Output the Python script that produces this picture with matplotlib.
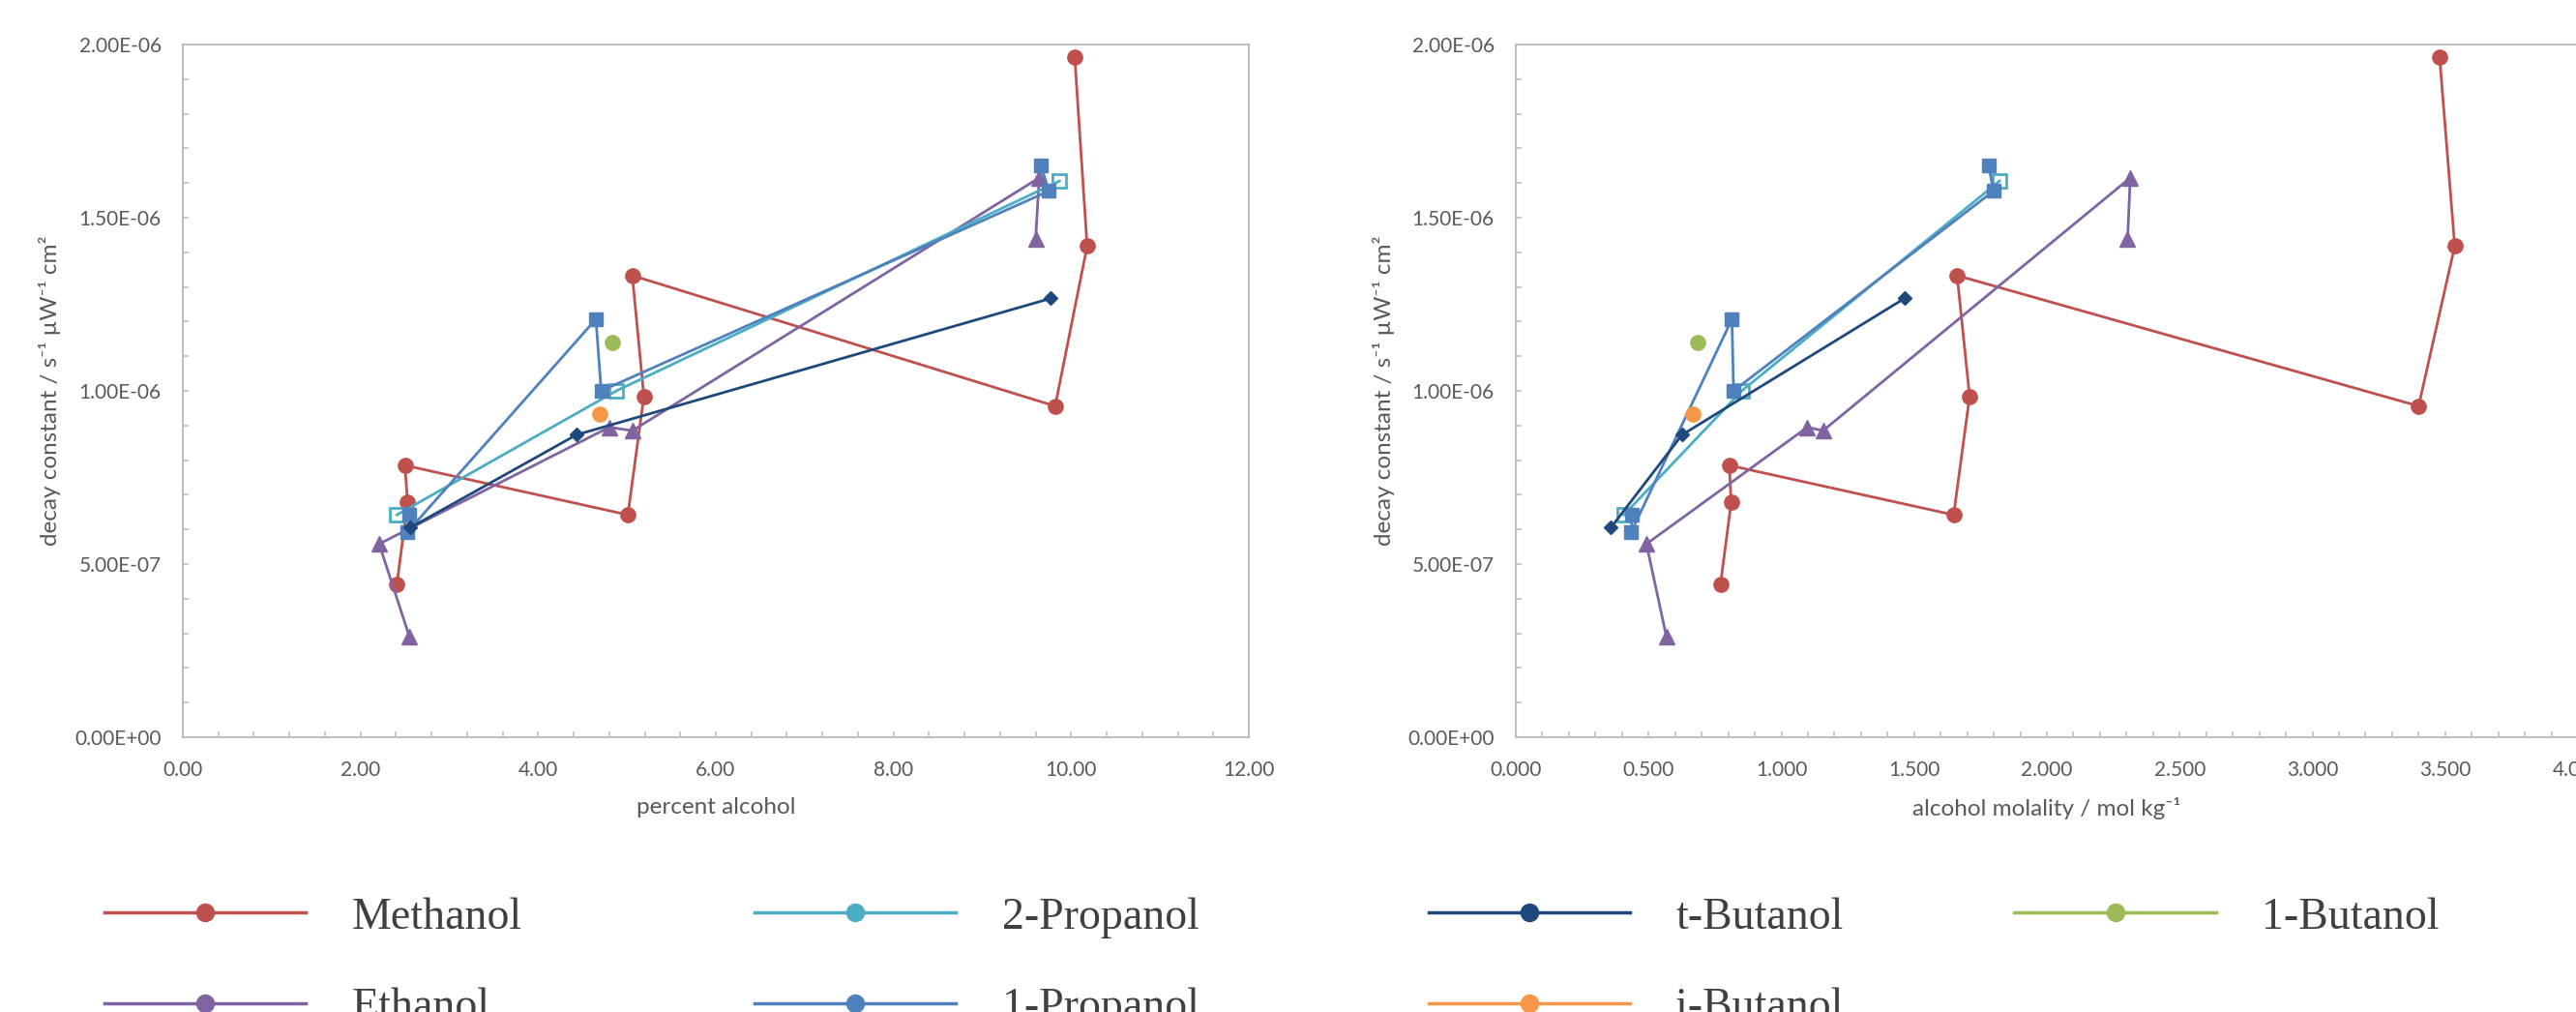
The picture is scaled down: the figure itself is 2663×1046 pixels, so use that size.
import matplotlib
matplotlib.use('Agg')
import matplotlib.pyplot as plt
from matplotlib.lines import Line2D
from matplotlib.ticker import MultipleLocator, FuncFormatter

plt.rcParams['font.family'] = ['Lato', 'DejaVu Sans']

# decay constants (s-1 uW-1 cm2), one list per alcohol, in the order they were joined
methanol_pct = [10.04, 10.18, 9.82, 5.06, 5.19, 5.01, 2.50, 2.53, 2.41]
methanol_mol = [3.479, 3.536, 3.400, 1.662, 1.709, 1.649, 0.804, 0.811, 0.771]
methanol_k = [1.964e-6, 1.418e-6, 0.956e-6, 1.333e-6, 0.984e-6, 0.642e-6, 0.785e-6, 0.678e-6, 0.442e-6]

ethanol_pct = [9.60, 9.64, 5.06, 4.80, 2.21, 2.55]
ethanol_mol = [2.304, 2.314, 1.157, 1.098, 0.492, 0.567]
ethanol_k = [1.438e-6, 1.615e-6, 0.885e-6, 0.895e-6, 0.558e-6, 0.291e-6]

propanol2_pct = [9.87, 4.88, 2.41]
propanol2_mol = [1.822, 0.851, 0.407]
propanol2_k = [1.606e-6, 1.000e-6, 0.642e-6]

propanol1_pct = [9.66, 9.75, 4.71, 4.65, 2.53, 2.55]
propanol1_mol = [1.781, 1.799, 0.820, 0.814, 0.435, 0.438]
propanol1_k = [1.650e-6, 1.577e-6, 1.000e-6, 1.207e-6, 0.593e-6, 0.642e-6]

tbutanol_pct = [9.77, 4.43, 2.56]
tbutanol_mol = [1.464, 0.626, 0.358]
tbutanol_k = [1.267e-6, 0.873e-6, 0.605e-6]

ibutanol_pct = [4.69]
ibutanol_mol = [0.665]
ibutanol_k = [0.932e-6]

butanol1_pct = [4.83]
butanol1_mol = [0.686]
butanol1_k = [1.139e-6]

colors = {
    'Methanol': '#C0504D', 'Ethanol': '#8064A2', '2-Propanol': '#4BACC6',
    '1-Propanol': '#4F81BD', 't-Butanol': '#1F497D', 'i-Butanol': '#F79646',
    '1-Butanol': '#9BBB59',
}

series = [
    ('Methanol', methanol_pct, methanol_mol, methanol_k, 'o', 11),
    ('Ethanol', ethanol_pct, ethanol_mol, ethanol_k, '^', 11),
    ('2-Propanol', propanol2_pct, propanol2_mol, propanol2_k, 's', 10),
    ('1-Propanol', propanol1_pct, propanol1_mol, propanol1_k, 's', 10.5),
    ('t-Butanol', tbutanol_pct, tbutanol_mol, tbutanol_k, 'D', 7),
    ('i-Butanol', ibutanol_pct, ibutanol_mol, ibutanol_k, 'o', 11),
    ('1-Butanol', butanol1_pct, butanol1_mol, butanol1_k, 'o', 11),
]

W, H = 2663, 1046
fig = plt.figure(figsize=(W / 100, H / 100), dpi=100)
ax1 = fig.add_axes([189 / W, (H - 762) / H, 1102 / W, 716 / H])
ax2 = fig.add_axes([1567 / W, (H - 762) / H, 1098 / W, 716 / H])

grey = '#BFBFBF'
txt = '#595959'

for name, pct, mol, k, mk, ms in series:
    c = colors[name]
    face = 'none' if name == '2-Propanol' else c
    for ax, xs in ((ax1, pct), (ax2, mol)):
        ax.plot(xs, k, color=c, lw=2, marker=mk, markersize=ms,
                markerfacecolor=face, markeredgecolor=c, markeredgewidth=2 if face == 'none' else 1)

def style(ax, xmax, major, minor, fmt, xlabel):
    ax.set_xlim(0, xmax)
    ax.set_ylim(0, 2e-6)
    ax.xaxis.set_major_locator(MultipleLocator(major))
    ax.xaxis.set_minor_locator(MultipleLocator(minor))
    ax.yaxis.set_major_locator(MultipleLocator(5e-7))
    ax.yaxis.set_minor_locator(MultipleLocator(1e-7))
    ax.xaxis.set_major_formatter(FuncFormatter(lambda v, p: fmt.format(v)))
    ax.yaxis.set_major_formatter(FuncFormatter(lambda v, p: '{:.2E}'.format(v)))
    for s in ax.spines.values():
        s.set_color(grey)
        s.set_linewidth(1.5)
    ax.tick_params(which='both', direction='in', length=4, width=1.2, color=grey,
                   top=False, right=False, labelsize=15, labelcolor=txt)
    ax.tick_params(axis='x', which='major', pad=17)
    ax.tick_params(axis='y', which='major', pad=16)
    ax.set_xlabel(xlabel, fontsize=17.5, color=txt)
    ax.set_ylabel('decay constant / s⁻¹ µW⁻¹ cm²', fontsize=17.5, color=txt)
    ax.xaxis.set_label_coords(0.5, -0.086)

style(ax1, 12, 2, 0.4, '{:.2f}', 'percent alcohol')
style(ax2, 4, 0.5, 0.1, '{:.3f}', 'alcohol molality / mol kg⁻¹')
ax1.yaxis.set_label_coords(-0.114, 0.5)
ax2.yaxis.set_label_coords(-0.114, 0.5)

def handle(name):
    return Line2D([], [], color=colors[name], lw=2.5, marker='o', markersize=13)

left_names = ['Methanol', 'Ethanol', '2-Propanol', '1-Propanol']
right_names = ['t-Butanol', 'i-Butanol', '1-Butanol']
prop = {'family': 'Liberation Serif', 'size': 33}
fig.legend([handle(n) for n in left_names], left_names, loc='upper left',
           bbox_to_anchor=(108 / W, (H - 927) / H), ncol=2, frameon=False, prop=prop,
           labelcolor='#404040', handlelength=4.54, handletextpad=1.03,
           columnspacing=5.26, labelspacing=1.12, borderpad=0, borderaxespad=0)
fig.legend([handle(n) for n in right_names], right_names, loc='upper left',
           bbox_to_anchor=(1477 / W, (H - 927) / H), ncol=2, frameon=False, prop=prop,
           labelcolor='#404040', handlelength=4.54, handletextpad=1.03,
           columnspacing=3.86, labelspacing=1.12, borderpad=0, borderaxespad=0)

fig.savefig('out.png', dpi=100)
